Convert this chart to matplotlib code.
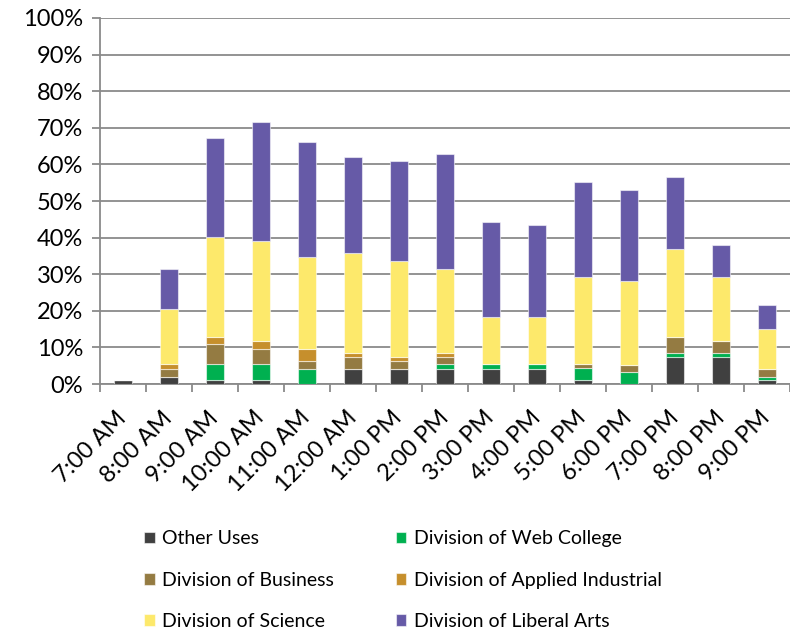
import matplotlib
matplotlib.use("Agg")
import matplotlib.pyplot as plt
import numpy as np

plt.rcParams["font.family"] = ["Lato", "DejaVu Sans"]

hours = ["7:00 AM", "8:00 AM", "9:00 AM", "10:00 AM", "11:00 AM", "12:00 AM",
         "1:00 PM", "2:00 PM", "3:00 PM", "4:00 PM", "5:00 PM", "6:00 PM",
         "7:00 PM", "8:00 PM", "9:00 PM"]

# segment heights in percent, bottom to top
other_uses = [1.0, 2.0, 1.0, 1.0, 0.0, 4.2, 4.2, 4.2, 4.2, 4.2, 1.0, 0.0, 7.5, 7.5, 1.0]
web_college = [0.0, 0.0, 4.4, 4.4, 4.2, 0.0, 0.0, 1.2, 1.2, 1.2, 3.3, 3.2, 1.1, 1.1, 1.0]
business = [0.0, 2.2, 5.5, 4.3, 2.2, 3.3, 2.2, 2.1, 0.0, 0.0, 1.1, 2.1, 4.2, 3.1, 2.2]
applied_ind = [0.0, 1.2, 1.9, 2.1, 3.2, 1.1, 1.1, 1.1, 0.0, 0.0, 0.0, 0.0, 0.0, 0.0, 0.0]
science = [0.0, 15.0, 27.3, 27.2, 25.1, 27.1, 26.1, 22.8, 12.9, 12.9, 23.8, 22.8, 24.0, 17.5, 10.9]
liberal_arts = [0.0, 11.0, 27.2, 32.7, 31.5, 26.2, 27.2, 31.5, 26.1, 25.1, 26.1, 25.0, 19.7, 8.7, 6.5]

series = [
    ("Other Uses", other_uses, "#404040"),
    ("Division of Web College", web_college, "#00b050"),
    ("Division of Business", business, "#947b42"),
    ("Division of Applied Industrial", applied_ind, "#c68f2c"),
    ("Division of Science", science, "#fde96b"),
    ("Division of Liberal Arts", liberal_arts, "#665aa7"),
]

fig = plt.figure(figsize=(7.9, 6.31), dpi=100)
ax = fig.add_axes([0.1266, 0.3914, 0.8734, 0.5801])

x = np.arange(len(hours))
bottom = np.zeros(len(hours))
handles = {}
for name, vals, col in series:
    vals = np.array(vals)
    b = ax.bar(x, vals, 0.41, bottom=bottom, color=col, label=name,
               edgecolor=(1, 1, 1, 0.55), linewidth=0.8, zorder=3)
    handles[name] = b
    bottom += vals

grid_c = "#8a8a8a"
ax.set_ylim(0, 100)
ax.set_xlim(-0.5, len(hours) - 0.5)
ax.set_yticks(np.arange(0, 101, 10))
ax.set_yticklabels([f"{v}%" for v in range(0, 101, 10)], fontsize=17)
ax.yaxis.grid(True, color=grid_c, linewidth=1.3, zorder=0)
ax.set_axisbelow(True)

# boundary ticks between categories, labels at centres
ax.set_xticks(np.arange(-0.5, len(hours), 1))
ax.set_xticklabels([])
ax.set_xticks(x, minor=True)
ax.set_xticklabels(hours, minor=True, fontsize=17, rotation=45,
                   ha="right", va="center", rotation_mode="anchor")
ax.tick_params(axis="x", which="major", length=6, width=1.3, color=grid_c)
ax.tick_params(axis="x", which="minor", length=0, pad=22)
ax.tick_params(axis="y", length=6, width=1.3, color=grid_c, pad=6)

for s in ["top", "right"]:
    ax.spines[s].set_visible(False)
for s in ["left", "bottom"]:
    ax.spines[s].set_color(grid_c)
    ax.spines[s].set_linewidth(1.3)

order = ["Other Uses", "Division of Business", "Division of Science",
         "Division of Web College", "Division of Applied Industrial",
         "Division of Liberal Arts"]
fig.legend([handles[n] for n in order], order, ncol=2, loc="upper left",
           bbox_to_anchor=(0.17, 0.175), frameon=False, fontsize=14,
           handlelength=0.55, handleheight=0.55, handletextpad=0.4,
           columnspacing=3.15, labelspacing=1.25, borderpad=0)

fig.savefig("out.png", dpi=100)
